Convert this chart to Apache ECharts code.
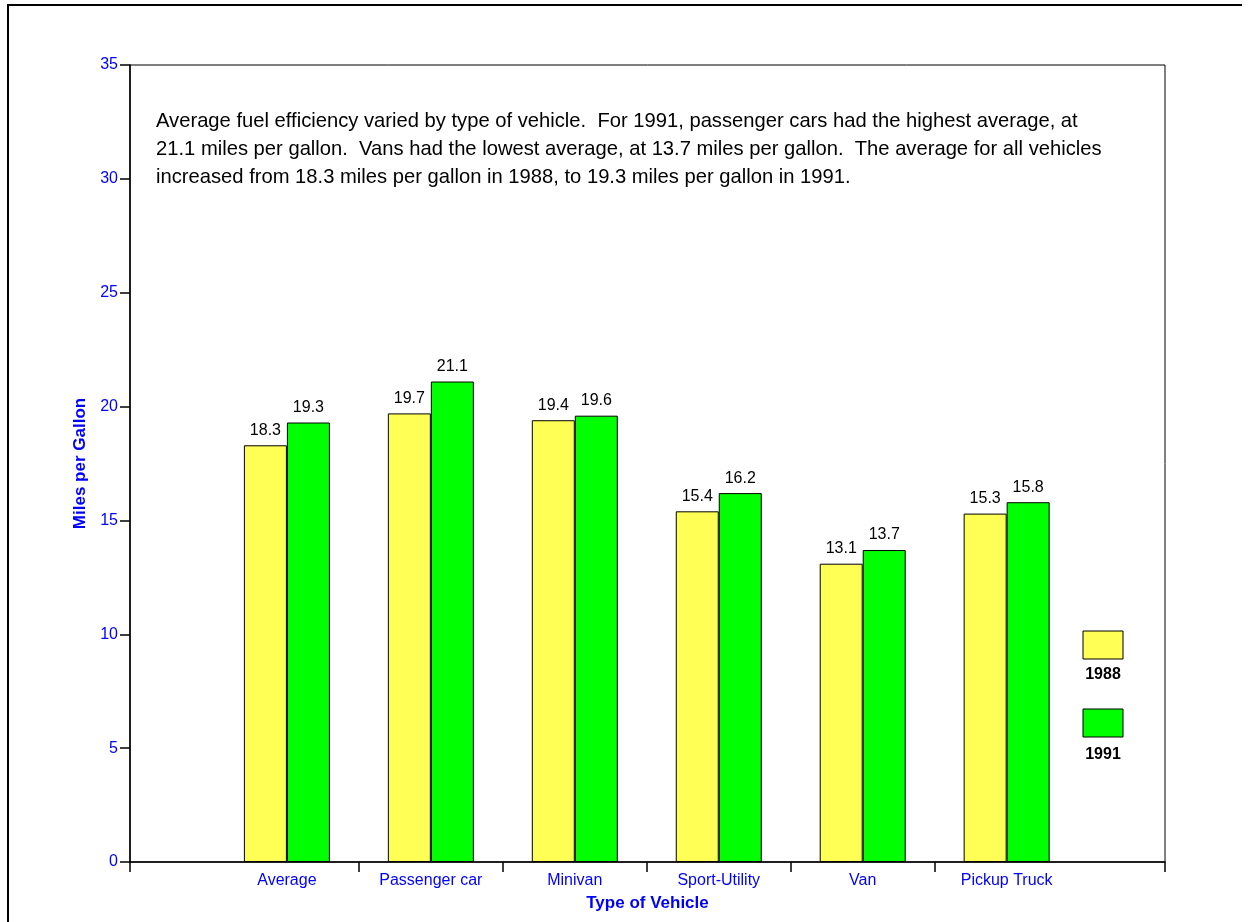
<!DOCTYPE html>
<html><head><meta charset="utf-8">
<script src="https://cdn.jsdelivr.net/npm/echarts@6/dist/echarts.min.js"></script>
<style>html,body{margin:0;padding:0;background:#fff}#c{width:1250px;height:922px}</style>
</head><body><div id="c"></div>
<script>
const categories = ['Average', 'Passenger car', 'Minivan', 'Sport-Utility', 'Van', 'Pickup Truck'];
const values1988 = [18.3, 19.7, 19.4, 15.4, 13.1, 15.3];
const values1991 = [19.3, 21.1, 19.6, 16.2, 13.7, 15.8];
const seriesNames = ['1988', '1991'];
const yTicks = [0, 5, 10, 15, 20, 25, 30, 35];
const note = 'Average fuel efficiency varied by type of vehicle.  For 1991, passenger cars had the highest average, at\n21.1 miles per gallon.  Vans had the lowest average, at 13.7 miles per gallon.  The average for all vehicles\nincreased from 18.3 miles per gallon in 1988, to 19.3 miles per gallon in 1991.';

const FONT = '"Liberation Sans", Arial, sans-serif';
const BLUE = '#0000ff';
const YELLOW = '#ffff55';
const GREEN = '#00ff00';
const xMin = -1.09, xMax = 6.1;

const chart = echarts.init(document.getElementById('c'), null, {renderer: 'canvas'});
const mk = vals => vals.map((v, i) => [i, v]);
const labelCfg = {show: true, position: 'top', distance: 7, color: '#000', fontFamily: FONT, fontSize: 16};

chart.setOption({
  animation: false,
  backgroundColor: '#fff',
  textStyle: {fontFamily: FONT},
  title: {
    text: note, left: 151, top: 102,
    textStyle: {fontFamily: FONT, fontSize: 20.2, fontWeight: 'normal', color: '#000', lineHeight: 28}
  },
  grid: {left: 130, right: 85, top: 65, bottom: 60, show: true, borderColor: '#000', borderWidth: 1, backgroundColor: 'transparent'},
  xAxis: {
    type: 'value', min: xMin, max: xMax,
    name: 'Type of Vehicle', nameLocation: 'middle', nameGap: 33,
    nameTextStyle: {color: BLUE, fontFamily: FONT, fontSize: 17, fontWeight: 'bold'},
    axisLine: {show: true, onZero: false, lineStyle: {color: '#000', width: 1.5}},
    axisTick: {show: true, inside: false, length: 10, lineStyle: {color: '#000', width: 1.5},
      customValues: [xMin, 0.5, 1.5, 2.5, 3.5, 4.5, xMax]},
    axisLabel: {color: BLUE, fontFamily: FONT, fontSize: 16, margin: 11,
      customValues: categories.map((c, i) => i),
      formatter: v => categories[Math.round(v)]},
    splitLine: {show: false}
  },
  yAxis: {
    type: 'value', min: 0, max: 35, interval: 5,
    name: 'Miles per Gallon', nameLocation: 'middle', nameGap: 34, nameRotate: 90,
    nameTextStyle: {color: BLUE, fontFamily: FONT, fontSize: 17, fontWeight: 'bold'},
    axisLine: {show: true, onZero: false, lineStyle: {color: '#000', width: 1.5}},
    axisTick: {show: true, inside: false, length: 10, lineStyle: {color: '#000', width: 1.5}},
    axisLabel: {color: BLUE, fontFamily: FONT, fontSize: 16, margin: 12,
      customValues: yTicks},
    splitLine: {show: false}
  },
  series: [
    {name: seriesNames[0], type: 'bar', data: mk(values1988), barWidth: 43, barGap: '0%',
      itemStyle: {color: YELLOW, borderColor: '#000', borderWidth: 1}, label: labelCfg},
    {name: seriesNames[1], type: 'bar', data: mk(values1991), barWidth: 43, barGap: '0%',
      itemStyle: {color: GREEN, borderColor: '#000', borderWidth: 1}, label: labelCfg}
  ],
  graphic: [
    {type: 'polyline', shape: {points: [[8, 940], [8, 5], [1242, 5]]}, style: {stroke: '#000', lineWidth: 2, fill: null}},
    {type: 'rect', shape: {x: 1083, y: 631, width: 40, height: 28}, style: {fill: YELLOW, stroke: '#000', lineWidth: 1}},
    {type: 'text', x: 1103, y: 675, style: {text: seriesNames[0], font: 'bold 16px ' + FONT, fill: '#000', align: 'center', verticalAlign: 'middle'}},
    {type: 'rect', shape: {x: 1083, y: 709, width: 40, height: 28}, style: {fill: GREEN, stroke: '#000', lineWidth: 1}},
    {type: 'text', x: 1103, y: 755, style: {text: seriesNames[1], font: 'bold 16px ' + FONT, fill: '#000', align: 'center', verticalAlign: 'middle'}}
  ]
});
</script></body></html>
